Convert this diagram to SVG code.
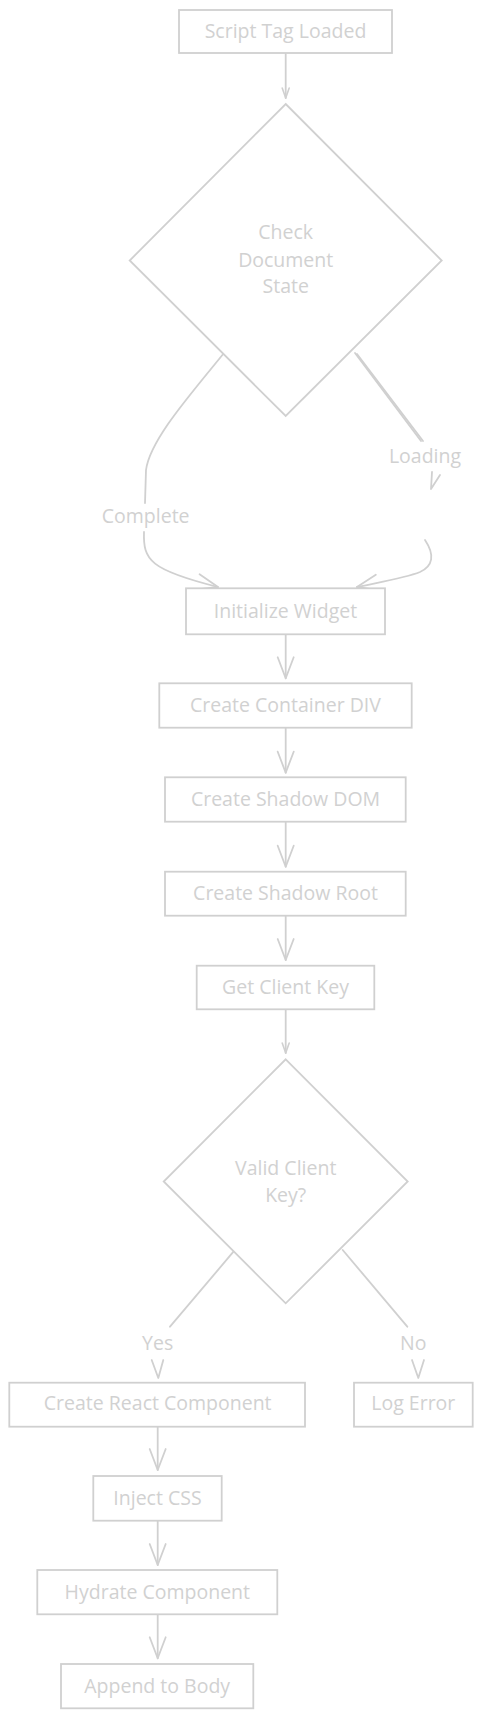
<svg xmlns="http://www.w3.org/2000/svg" width="482" height="1718" viewBox="0 0 482 1718">
  <style>
    .box { fill: #ffffff; stroke: #d0d0d0; stroke-width: 1.8; }
    .lbl { font-family: "Open Sans", "Noto Sans", sans-serif; font-size: 19.5px; fill: #d1d1d1; text-anchor: middle; }
    .edge { fill: none; stroke: #d0d0d0; stroke-width: 1.8; stroke-linecap: round; stroke-linejoin: round; }
  </style>
  <defs>
    <marker id="big" markerUnits="userSpaceOnUse" markerWidth="30" markerHeight="30" refX="0" refY="0" orient="auto" overflow="visible">
      <path d="M-21,-8 L0,0 L-21,8" fill="none" stroke="#d0d0d0" stroke-width="1.8" stroke-linecap="round" stroke-linejoin="round"/>
    </marker>
    <marker id="small" markerUnits="userSpaceOnUse" markerWidth="20" markerHeight="20" refX="0" refY="0" orient="auto" overflow="visible">
      <path d="M-10,-3.5 L0,0 L-10,3.5" fill="none" stroke="#d0d0d0" stroke-width="1.6" stroke-linecap="round" stroke-linejoin="round"/>
    </marker>
  </defs>

  <g id="connectors">
    <path class="edge" d="M285.7,54 L285.7,98" marker-end="url(#small)"/>
    <path class="edge" d="M224,353 C190,395 150,440 146,470 L145,503"/>
    <path class="edge" d="M144,532 C143,560 150,570 218,587" marker-end="url(#big)"/>
    <path class="edge" d="M355,353 L421,441"/>
    <path class="edge" d="M357,354 L423,441" stroke-width="1"/>
    <path class="edge" d="M432,472 L431,489 L440,475"/>
    <path class="edge" d="M425,540 C435,555 433,566 420,572 C405,578 380,582 357,587" marker-end="url(#big)"/>
    <path class="edge" d="M285.7,634.5 L285.7,678.3" marker-end="url(#big)"/>
    <path class="edge" d="M285.7,728 L285.7,772.7" marker-end="url(#big)"/>
    <path class="edge" d="M285.7,822 L285.7,866.7" marker-end="url(#big)"/>
    <path class="edge" d="M285.7,916 L285.7,960" marker-end="url(#big)"/>
    <path class="edge" d="M285.7,1009.5 L285.7,1053" marker-end="url(#small)"/>
    <path class="edge" d="M234.3,1250.7 L170,1326.7"/>
    <path class="edge" d="M151.7,1360 L158.3,1378 L163.3,1360"/>
    <path class="edge" d="M342.7,1250 L407.3,1326.7"/>
    <path class="edge" d="M412,1360 L418.3,1378 L424,1360"/>
    <path class="edge" d="M157.7,1427 L157.7,1470" marker-end="url(#big)"/>
    <path class="edge" d="M157.7,1521 L157.7,1565" marker-end="url(#big)"/>
    <path class="edge" d="M157.7,1614.5 L157.7,1658.3" marker-end="url(#big)"/>
    <text class="lbl" x="145.7" y="523">Complete</text>
    <text class="lbl" x="425" y="463">Loading</text>
    <text class="lbl" x="157.7" y="1350">Yes</text>
    <text class="lbl" x="413.3" y="1350">No</text>
  </g>

  <g id="script-tag-loaded">
    <rect class="box" x="179" y="10" width="213" height="43"/>
    <text class="lbl" x="285.5" y="38">Script Tag Loaded</text>
  </g>
  <g id="check-document-state">
    <polygon class="box" points="285.7,104 441.7,260.5 285.7,416 129.7,260.5"/>
    <text class="lbl" x="285.7" y="239.3">Check</text>
    <text class="lbl" x="285.7" y="266.7">Document</text>
    <text class="lbl" x="285.7" y="293.3">State</text>
  </g>
  <g id="initialize-widget">
    <rect class="box" x="186" y="588.3" width="199" height="46"/>
    <text class="lbl" x="285.5" y="618.3">Initialize Widget</text>
  </g>
  <g id="create-container-div">
    <rect class="box" x="159.3" y="683.3" width="252.4" height="44.4"/>
    <text class="lbl" x="285.5" y="711.7">Create Container DIV</text>
  </g>
  <g id="create-shadow-dom">
    <rect class="box" x="165" y="777.3" width="240.7" height="44.4"/>
    <text class="lbl" x="285.5" y="805.7">Create Shadow DOM</text>
  </g>
  <g id="create-shadow-root">
    <rect class="box" x="165" y="871.7" width="240.7" height="44"/>
    <text class="lbl" x="285.5" y="900">Create Shadow Root</text>
  </g>
  <g id="get-client-key">
    <rect class="box" x="196.7" y="965.7" width="177.6" height="43.6"/>
    <text class="lbl" x="285.5" y="994">Get Client Key</text>
  </g>
  <g id="valid-client-key">
    <polygon class="box" points="285.7,1059.3 407.7,1181.5 285.7,1303.3 163.7,1181.5"/>
    <text class="lbl" x="285.7" y="1175">Valid Client</text>
    <text class="lbl" x="285.7" y="1202.3">Key?</text>
  </g>
  <g id="create-react-component">
    <rect class="box" x="9.3" y="1382.7" width="295.7" height="44"/>
    <text class="lbl" x="157.7" y="1410">Create React Component</text>
  </g>
  <g id="log-error">
    <rect class="box" x="354" y="1382.7" width="118.7" height="44"/>
    <text class="lbl" x="413.3" y="1410">Log Error</text>
  </g>
  <g id="inject-css">
    <rect class="box" x="93.3" y="1476" width="128.4" height="44.7"/>
    <text class="lbl" x="157.5" y="1505">Inject CSS</text>
  </g>
  <g id="hydrate-component">
    <rect class="box" x="37.3" y="1570" width="240" height="44.3"/>
    <text class="lbl" x="157.3" y="1599">Hydrate Component</text>
  </g>
  <g id="append-to-body">
    <rect class="box" x="61" y="1664" width="192.3" height="44.3"/>
    <text class="lbl" x="157.2" y="1693.3">Append to Body</text>
  </g>
</svg>
